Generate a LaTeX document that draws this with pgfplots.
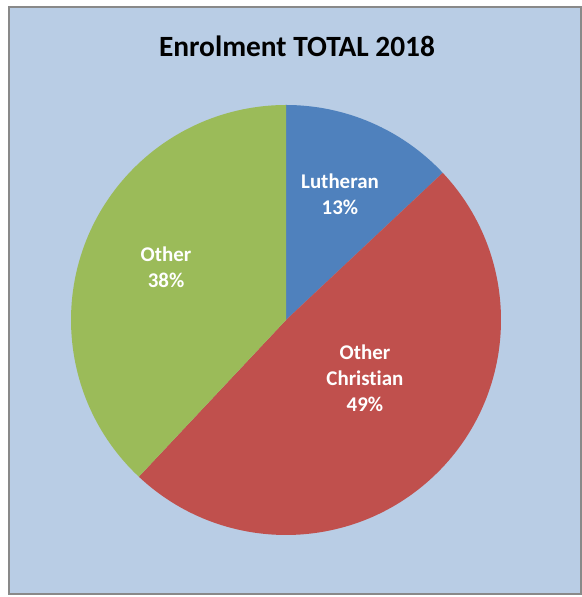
\documentclass[border=0pt]{standalone}
\usepackage{fontspec}
\setmainfont[Ligatures=CommonOff]{Carlito}
\usepackage{pgfplots}
\usepackage{pgfplotstable}
\pgfplotsset{compat=1.18}

\definecolor{lutheran}{HTML}{4F81BD}
\definecolor{otherchr}{HTML}{C0504D}
\definecolor{other}{HTML}{9BBB59}
\definecolor{chartbg}{HTML}{B9CDE5}
\definecolor{chartborder}{HTML}{898989}

% share of enrolment, percent (clockwise from 12 o'clock)
\pgfplotstableread{
idx value
0 13
1 49
2 38
}\piedata

\begin{document}
\begin{tikzpicture}[x=1bp,y=1bp]
\useasboundingbox (0,0) rectangle (582,597);
\filldraw[fill=chartbg, draw=chartborder, line width=2bp] (9,3) rectangle (581,590);
\node[font=\fontsize{29.5}{34}\selectfont\bfseries] at (297,551) {Enrolment TOTAL 2018};

\pgfplotstablegetelem{0}{value}\of\piedata \let\vA\pgfplotsretval
\pgfplotstablegetelem{1}{value}\of\piedata \let\vB\pgfplotsretval
\pgfplotstablegetelem{2}{value}\of\piedata \let\vC\pgfplotsretval
\pgfmathsetmacro\aA{90}
\pgfmathsetmacro\aB{\aA-3.6*\vA}
\pgfmathsetmacro\aC{\aB-3.6*\vB}
\pgfmathsetmacro\aD{\aC-3.6*\vC}

\begin{axis}[
  at={(286bp,277bp)}, anchor=center,
  scale only axis, width=430bp, height=430bp,
  xmin=-1, xmax=1, ymin=-1, ymax=1,
  hide axis, clip=false,
]
\fill[lutheran] (axis cs:0,0) -- (axis cs:{cos(\aA)},{sin(\aA)}) arc[start angle=\aA, end angle=\aB, radius=215bp] -- cycle;
\fill[otherchr] (axis cs:0,0) -- (axis cs:{cos(\aB)},{sin(\aB)}) arc[start angle=\aB, end angle=\aC, radius=215bp] -- cycle;
\fill[other] (axis cs:0,0) -- (axis cs:{cos(\aC)},{sin(\aC)}) arc[start angle=\aC, end angle=\aD, radius=215bp] -- cycle;
\node[white, align=center, font=\fontsize{21}{26}\selectfont\bfseries] at (axis cs:0.251,0.586) {Lutheran\\\vA\%};
\node[white, align=center, font=\fontsize{21}{26}\selectfont\bfseries] at (axis cs:0.367,-0.270) {Other\\Christian\\\vB\%};
\node[white, align=center, font=\fontsize{21}{26}\selectfont\bfseries] at (axis cs:-0.558,0.247) {Other\\\vC\%};
\end{axis}
\end{tikzpicture}
\end{document}
